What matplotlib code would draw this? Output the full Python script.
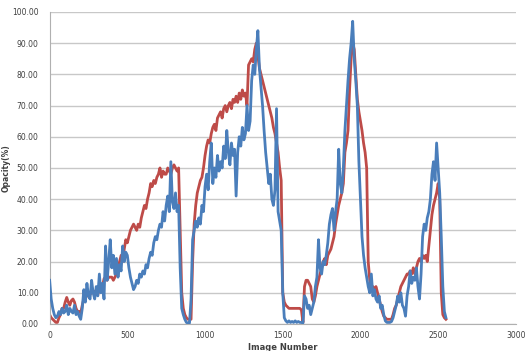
import numpy as np
import matplotlib
matplotlib.use("Agg")
import matplotlib.pyplot as plt
from matplotlib.ticker import FormatStrFormatter

# image numbers sampled every 10 frames
step = 10

blue_vals = [
    14, 8, 5, 3, 2, 2.5, 4, 3, 5, 3.5,
    4, 6, 3, 5, 4, 3.5, 6, 3, 4, 2.5,
    1.5, 5, 11, 7, 13, 9, 8, 14, 10, 8,
    12, 9, 16, 10, 13, 8, 25, 14, 20, 27,
    18, 22, 16, 21, 15, 19, 17, 25, 20, 23,
    22, 18, 15, 13, 11, 12, 14, 13, 16, 15,
    17, 16, 19, 18, 21, 23, 22, 26, 28, 27,
    30, 32, 31, 36, 33, 38, 41, 36, 52, 39,
    37, 42, 36, 38, 18, 5, 3, 1.5, 0.5, 0.3,
    0.3, 8, 27, 30, 33, 31, 34, 32, 38, 36,
    44, 48, 43, 52, 58, 45, 50, 47, 54, 49,
    52, 50, 57, 53, 62, 55, 51, 58, 54, 56,
    41, 55, 60, 57, 63, 59, 61, 70, 62, 65,
    78, 83, 80, 88, 94, 82, 76, 70, 62, 55,
    50, 45, 48, 40, 38, 43, 69, 36, 33, 30,
    10, 2, 1, 0.5, 1, 0.5, 0.8, 0.5, 1, 0.5,
    0.8, 0.5, 0.5, 0.3, 9, 8, 5, 6, 3, 5,
    7, 12, 15, 27, 18, 16, 20, 19, 22, 26,
    32, 35, 37, 30, 36, 40, 56, 45, 42, 50,
    62, 70, 78, 85, 90, 97, 85, 78, 70, 52,
    40, 28, 22, 18, 15, 12, 10, 16, 9, 11,
    8, 7, 9, 5, 6, 3, 1, 0.5, 0.5, 0.5,
    0.8, 2, 4, 6, 9, 7, 10, 6, 5, 2.5,
    9, 12, 17, 13, 15, 14, 18, 12, 8, 16,
    28, 32, 30, 34, 36, 40, 48, 52, 46, 58,
    50, 42, 28, 12, 4, 2,
]

red_vals = [
    3, 2, 1.5, 1, 0.5, 0.5, 2, 3, 5, 5,
    7, 8.5, 7, 6, 7.5, 8, 7, 5, 4, 4,
    3.5, 6, 8, 8.5, 9, 9, 9.5, 10, 10, 10.5,
    10, 9.5, 11, 11, 12, 14.5, 15, 14, 15, 15,
    15, 14, 15, 16, 18, 20, 22, 20, 24, 27,
    26, 28, 30, 31, 32, 31, 30, 32, 31, 34,
    36, 38, 37, 40, 42, 45, 44, 46, 45, 47,
    48, 50, 47, 49, 48, 48, 50, 49, 48, 50,
    51, 50, 49, 50, 30, 10, 5, 3, 2, 1.5,
    1.5, 1.5, 20, 32, 38, 42, 44, 46, 47, 50,
    54, 57, 59, 58, 61, 63, 64, 62, 66, 67,
    68, 66, 69, 70, 68, 70, 71, 69, 72, 71,
    73, 71, 74, 72, 75, 73, 74, 70, 83, 84,
    85, 84, 88, 90, 86, 82, 80, 78, 76, 74,
    72, 70, 68, 66, 63, 61, 58, 55, 50, 46,
    10, 7, 6, 5.5, 5, 5, 5, 5, 5, 5,
    5, 5, 4.5, 0.5, 12, 14, 14, 13, 12, 8,
    7, 9, 12, 14, 16, 18, 20, 21, 19, 22,
    23, 24, 26, 28, 32, 35, 38, 40, 42, 45,
    55, 58, 62, 75, 85, 90, 88, 80, 72, 68,
    65, 62, 58, 55, 50, 20, 14, 12, 12, 11,
    12, 10, 8, 6, 4, 2.5, 2, 1.5, 1.5, 1.5,
    1.5, 3, 5, 6, 8, 10, 12, 13, 14, 15,
    16, 16, 17, 16, 18, 16, 18, 20, 21, 20,
    22, 21, 22, 20, 25, 30, 35, 38, 40, 42,
    45, 40, 10, 3, 2, 1.5,
]

x_blue = np.arange(len(blue_vals)) * step
x_red = np.arange(len(red_vals)) * step

fig = plt.figure(figsize=(5.28, 3.51), dpi=100)
ax = fig.add_axes([0.094, 0.077, 0.883, 0.889])

ax.plot(x_blue, blue_vals, color="#4a7ebb", lw=2.0, zorder=3)
ax.plot(x_red, red_vals, color="#be4b48", lw=2.0, zorder=2)

ax.set_xlim(0, 3000)
ax.set_ylim(0, 100)
ax.set_xticks(np.arange(0, 3001, 500))
ax.set_yticks(np.arange(0, 101, 10))
ax.yaxis.set_major_formatter(FormatStrFormatter("%.2f"))

ax.grid(axis="y", color="#c8c8c8", lw=1)
ax.set_axisbelow(True)
for s in ["top", "right"]:
    ax.spines[s].set_visible(False)
for s in ["left", "bottom"]:
    ax.spines[s].set_color("#b0b0b0")

ax.tick_params(length=0, labelsize=5.5, labelcolor="#404040")
ax.tick_params(axis="y", pad=8)
ax.tick_params(axis="x", pad=5)
ax.set_xlabel("Image Number", fontsize=6, fontweight="bold", color="#404040", labelpad=2)
ax.set_ylabel("Opacity(%)", fontsize=5.5, fontweight="bold", color="#404040")
ax.yaxis.set_label_coords(-0.083, 0.5)

fig.savefig("out.png", dpi=100)
